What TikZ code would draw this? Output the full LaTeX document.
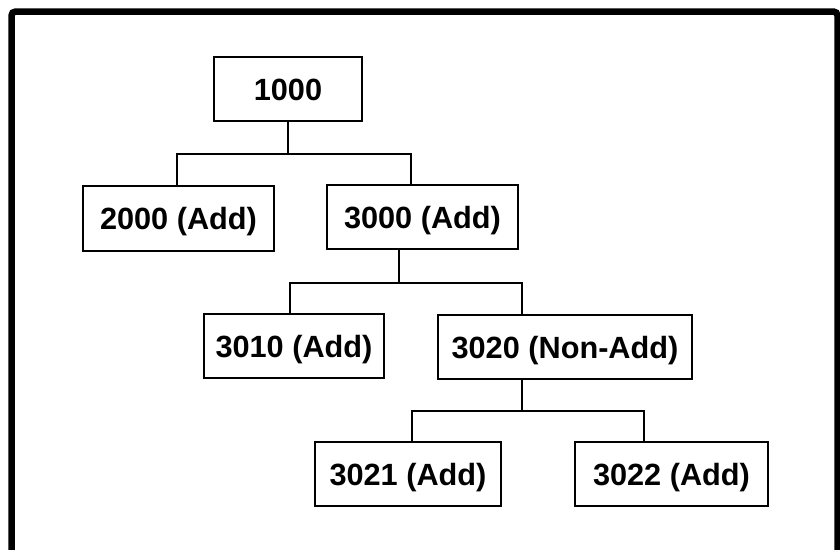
\documentclass[tikz,border=0pt]{standalone}
\usepackage{fontspec}
\setmainfont{Liberation Sans}
\begin{document}
\begin{tikzpicture}[x=1pt,y=-1pt,
  box/.style={draw=black, line width=2pt, inner sep=0pt, align=center,
    font=\fontsize{30.7pt}{36pt}\selectfont\bfseries, text height=22pt, text depth=0pt},
  link/.style={draw=black, line width=1.5pt}]
\useasboundingbox (0,0) rectangle (840,549);
\clip (0,0) rectangle (840,549);
% outer frame (bottom edge lies below the picture)
\draw[line width=6.5pt, rounded corners=4pt] (11.5,600) -- (11.5,11.5) -- (837.5,11.5) -- (837.5,600);
% nodes
\node[box, minimum width=148pt, minimum height=64pt] (n1000) at (288,89) {1000};
\node[box, minimum width=191pt, minimum height=65pt] (n2000) at (178.5,218.5) {2000 (Add)};
\node[box, minimum width=191pt, minimum height=64pt] (n3000) at (422.5,217) {3000 (Add)};
\node[box, minimum width=180pt, minimum height=64pt] (n3010) at (294,346) {3010 (Add)};
\node[box, minimum width=254pt, minimum height=64pt] (n3020) at (565,347) {3020 (Non-Add)};
\node[box, minimum width=186pt, minimum height=64pt] (n3021) at (408,474) {3021 (Add)};
\node[box, minimum width=193pt, minimum height=64pt] (n3022) at (671.5,474) {3022 (Add)};
% connectors
\draw[link] (n1000.south) -- ++(0,32) coordinate (j1);
\draw[link] (j1) -| ([xshift=-1.5pt]n2000.north);
\draw[link] (j1) -| ([xshift=-11.5pt]n3000.north);
\draw[link] ([xshift=-23.5pt]n3000.south) -- ++(0,33) coordinate (j2);
\draw[link] (j2) -| ([xshift=-4pt]n3010.north);
\draw[link] (j2) -| ([xshift=-43pt]n3020.north);
\draw[link] ([xshift=-43pt]n3020.south) -- ++(0,31) coordinate (j3);
\draw[link] (j3) -| ([xshift=4pt]n3021.north);
\draw[link] (j3) -| ([xshift=-27.5pt]n3022.north);
\end{tikzpicture}
\end{document}
